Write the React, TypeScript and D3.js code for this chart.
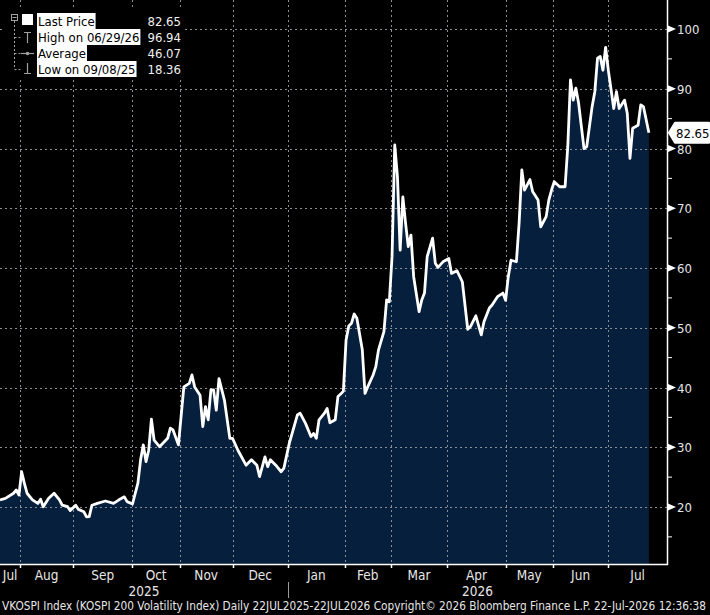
import React, { useEffect, useRef } from 'react';
import * as d3 from 'd3';

// trading-session index (0 = 22 Jul 2025) and VKOSPI close
const sessions = [
  0, 2, 5, 6, 7, 8, 9, 10, 12, 14,
  15, 16, 18, 20, 22, 23, 25, 26, 28, 29,
  31, 32, 33, 34, 36, 39, 42, 44, 46, 47,
  49, 51, 52, 53, 54, 55, 56, 57, 59, 62,
  63, 64, 66, 68, 70, 71, 72, 74, 75, 76,
  77, 78, 79, 80, 81, 83, 85, 86, 88, 91,
  93, 95, 96, 98, 99, 100, 102, 104, 105, 107,
  110, 111, 113, 115, 116, 117, 118, 120, 121, 122,
  124, 125, 126, 127, 128, 129, 130, 131, 132, 134,
  135, 136, 138, 139, 140, 142, 143, 144, 145, 146,
  147, 148, 149, 150, 151, 152, 153, 155, 156, 157,
  158, 160, 161, 162, 164, 166, 167, 169, 171, 173,
  174, 176, 178, 179, 181, 182, 184, 186, 187, 188,
  189, 191, 192, 193, 194, 196, 197, 199, 200, 202,
  203, 204, 205, 207, 209, 210, 211, 212, 213, 214,
  216, 217, 219, 220, 221, 222, 223, 224, 225, 227,
  228, 229, 231, 232, 233, 234, 236, 237, 238, 240,
];
const vkospi = [
  21.2, 21.45, 22.3, 22.85, 22.0, 25.9, 24.0, 22.3, 21.2, 20.6,
  21.3, 20.05, 21.45, 22.3, 21.2, 20.3, 20.05, 19.4, 20.3, 19.6,
  19.2, 18.36, 18.4, 20.3, 20.6, 21.0, 20.6, 21.2, 21.7, 20.9,
  20.5, 24.0, 27.9, 30.4, 27.6, 29.5, 34.7, 31.2, 30.1, 31.5,
  33.2, 32.9, 30.4, 40.1, 40.7, 42.1, 40.1, 38.7, 33.45, 36.8,
  34.6, 39.6, 39.6, 36.2, 41.5, 37.9, 31.5, 31.5, 29.5, 27.0,
  27.9, 27.0, 25.1, 28.4, 26.75, 27.9, 27.0, 25.9, 26.5, 30.65,
  35.4, 35.7, 34.0, 31.8, 32.3, 31.5, 34.6, 35.7, 36.5, 34.1,
  34.6, 38.5, 38.9, 39.4, 47.95, 50.3, 50.75, 52.3, 51.6, 46.3,
  39.0, 40.1, 42.1, 43.5, 46.3, 49.35, 54.65, 54.35, 61.9, 80.6,
  75.3, 63.0, 71.9, 67.5, 63.6, 65.5, 58.55, 52.7, 54.65, 55.8,
  61.9, 65.0, 60.8, 60.1, 61.1, 61.6, 59.1, 59.55, 57.7, 49.75,
  50.2, 52.0, 48.8, 51.0, 53.3, 53.8, 55.2, 55.8, 54.6, 58.55,
  61.3, 61.05, 67.5, 76.4, 73.05, 74.8, 72.8, 71.4, 66.9, 68.6,
  71.4, 73.05, 74.45, 73.6, 73.6, 80.3, 91.5, 88.1, 90.1, 87.6,
  80.0, 80.3, 87.0, 89.5, 95.1, 95.4, 93.1, 96.94, 93.1, 86.7,
  89.5, 86.7, 88.1, 85.9, 78.35, 83.4, 83.9, 87.3, 87.0, 82.65,
];

// month boundaries in session units, and the labels sitting between them
const monthStarts = [7.5, 27, 49, 66.5, 86, 106.5, 127.5, 144.5, 165.5, 187, 204.5, 225];
const monthLabels = ['Jul', 'Aug', 'Sep', 'Oct', 'Nov', 'Dec', 'Jan', 'Feb', 'Mar', 'Apr', 'May', 'Jun', 'Jul'];
const yearLabels = ['2025', '2026'];
const yearStart = 106.5;
const majorTicks = [20, 30, 40, 50, 60, 70, 80, 90, 100];
const minorTicks = [15, 25, 35, 45, 55, 65, 75, 85, 95];

const legendLabels = ['Last Price', 'High on 06/29/26', 'Average', 'Low on 09/08/25'];
const legendValues = ['82.65', '96.94', '46.07', '18.36'];
const lastValue = '82.65';
const footer = 'VKOSPI Index (KOSPI 200 Volatility Index) Daily 22JUL2025-22JUL2026  Copyright\u00a9 2026 Bloomberg Finance L.P.  22-Jul-2026 12:36:38';

const W = 710;
const H = 615;
const FONT = "'DejaVu Sans Condensed', 'DejaVu Sans', sans-serif";

export default function App() {
  const ref = useRef<SVGSVGElement>(null);

  useEffect(() => {
    if (!ref.current) return;
    const svg = d3.select(ref.current);
    svg.selectAll('*').remove();

    const plotRight = 667;
    const plotBottom = 564;
    const sessionEnd = 246.7;

    const x = d3.scaleLinear().domain([0, sessionEnd]).range([0, plotRight]);
    const y = d3.scaleLinear().domain([20, 100]).range([507, 29]);

    svg.append('rect').attr('width', W).attr('height', H).attr('fill', '#000');

    const data = sessions.map((s, i) => ({ s, v: vkospi[i] }));

    // area + line
    const area = d3.area<{ s: number; v: number }>()
      .x(d => x(d.s))
      .y0(plotBottom)
      .y1(d => y(d.v));
    svg.append('path').datum(data).attr('d', area).attr('fill', '#061f3d');

    // grid
    const grid = svg.append('g')
      .attr('stroke', '#8a8f96')
      .attr('stroke-width', 1)
      .attr('stroke-dasharray', '2,3')
      .attr('shape-rendering', 'crispEdges');
    grid.selectAll('line.h').data(majorTicks).enter().append('line')
      .attr('x1', 0).attr('x2', plotRight)
      .attr('y1', d => Math.round(y(d)) + 0.5).attr('y2', d => Math.round(y(d)) + 0.5);
    grid.selectAll('line.v').data(monthStarts).enter().append('line')
      .attr('y1', 0).attr('y2', plotBottom)
      .attr('x1', d => Math.round(x(d)) + 0.5).attr('x2', d => Math.round(x(d)) + 0.5);

    const line = d3.line<{ s: number; v: number }>()
      .x(d => x(d.s))
      .y(d => y(d.v));
    svg.append('path').datum(data).attr('d', line)
      .attr('fill', 'none').attr('stroke', '#fff')
      .attr('stroke-width', 2.8).attr('stroke-linejoin', 'round');

    // axes lines
    svg.append('line').attr('x1', plotRight + 0.5).attr('x2', plotRight + 0.5)
      .attr('y1', 0).attr('y2', plotBottom + 1).attr('stroke', '#fff').attr('stroke-width', 1.5);
    svg.append('line').attr('x1', 0).attr('x2', plotRight + 1)
      .attr('y1', plotBottom + 0.5).attr('y2', plotBottom + 0.5).attr('stroke', '#fff').attr('stroke-width', 1.5);

    // right axis
    const yAxis = svg.append('g');
    yAxis.selectAll('path.tri').data(majorTicks).enter().append('path')
      .attr('d', d => `M${plotRight + 1},${y(d) - 3.5}L${plotRight + 9},${y(d)}L${plotRight + 1},${y(d) + 3.5}Z`)
      .attr('fill', '#fff');
    yAxis.selectAll('line.minor').data(minorTicks).enter().append('line')
      .attr('x1', plotRight).attr('x2', plotRight + 5)
      .attr('y1', d => y(d)).attr('y2', d => y(d))
      .attr('stroke', '#fff').attr('stroke-width', 1);
    yAxis.selectAll('text').data(majorTicks).enter().append('text')
      .attr('x', plotRight + 10).attr('y', d => y(d) + 5)
      .attr('fill', '#e6e6e6').attr('font-size', 13).attr('font-family', FONT)
      .text(d => d);

    // last price callout
    const ly = y(+lastValue);
    svg.append('path')
      .attr('d', `M${plotRight + 2},${ly}L${plotRight + 8},${ly - 10}H${W - 1}V${ly + 10}H${plotRight + 8}Z`)
      .attr('fill', '#fff').attr('stroke', '#fff').attr('stroke-linejoin', 'round').attr('stroke-width', 2);
    svg.append('text').attr('x', plotRight + 9).attr('y', ly + 5)
      .attr('fill', '#000').attr('font-size', 13).attr('font-family', FONT).text(lastValue);

    // bottom axis
    svg.selectAll('line.mt').data(monthStarts).enter().append('line')
      .attr('x1', d => Math.round(x(d)) + 0.5).attr('x2', d => Math.round(x(d)) + 0.5)
      .attr('y1', plotBottom).attr('y2', plotBottom + 4)
      .attr('stroke', '#fff').attr('stroke-width', 1.5);
    const bounds = [0, ...monthStarts, sessionEnd];
    svg.selectAll('text.month').data(monthLabels).enter().append('text')
      .attr('x', (_, i) => (x(bounds[i]) + x(bounds[i + 1])) / 2)
      .attr('y', 580)
      .attr('text-anchor', 'middle')
      .attr('fill', '#e6e6e6').attr('font-size', 13.5).attr('font-family', FONT)
      .text(d => d);
    const yb = [0, yearStart, sessionEnd];
    svg.selectAll('text.year').data(yearLabels).enter().append('text')
      .attr('x', (_, i) => (x(yb[i]) + x(yb[i + 1])) / 2)
      .attr('y', 596)
      .attr('text-anchor', 'middle')
      .attr('fill', '#e6e6e6').attr('font-size', 13.5).attr('font-family', FONT)
      .text(d => d);
    svg.append('line')
      .attr('x1', Math.round(x(yearStart)) + 0.5).attr('x2', Math.round(x(yearStart)) + 0.5)
      .attr('y1', 582).attr('y2', 598).attr('stroke', '#9a9a9a').attr('stroke-width', 1);

    svg.append('text').attr('x', 2).attr('y', 609.5)
      .attr('fill', '#e6e6e6').attr('font-size', 11.5).attr('font-family', FONT)
      .attr('textLength', 704).attr('lengthAdjust', 'spacingAndGlyphs')
      .text(footer);

    // legend
    const lg = svg.append('g');
    lg.append('rect').attr('x', 4).attr('y', 8).attr('width', 181).attr('height', 70).attr('fill', '#000');
    const rowTop = (i: number) => 13 + i * 16;
    const gray = '#a0a0a0';
    lg.append('rect').attr('x', 11.5).attr('y', 14.5).attr('width', 6).attr('height', 6)
      .attr('fill', 'none').attr('stroke', gray);
    lg.append('line').attr('x1', 12.5).attr('x2', 16.5).attr('y1', 17.5).attr('y2', 17.5).attr('stroke', gray);
    lg.append('line').attr('x1', 14.5).attr('x2', 14.5).attr('y1', 21).attr('y2', 69)
      .attr('stroke', gray).attr('stroke-dasharray', '2,2');
    [1, 2, 3].forEach(i => {
      lg.append('line').attr('x1', 14.5).attr('x2', 21).attr('y1', rowTop(i) + 8.5).attr('y2', rowTop(i) + 8.5)
        .attr('stroke', gray).attr('stroke-dasharray', '2,2');
    });
    lg.append('rect').attr('x', 22).attr('y', 14).attr('width', 11).attr('height', 11).attr('fill', '#fff');
    // high icon
    lg.append('path').attr('d', `M24,${rowTop(1) + 3.5}H31M27.5,${rowTop(1) + 3.5}V${rowTop(1) + 14}`)
      .attr('stroke', gray).attr('stroke-width', 1.2).attr('fill', 'none');
    // average icon
    lg.append('path').attr('d', `M21,${rowTop(2) + 8.5}H34`).attr('stroke', gray).attr('stroke-width', 1.2);
    lg.append('circle').attr('cx', 27.5).attr('cy', rowTop(2) + 8.5).attr('r', 1.8).attr('fill', gray);
    // low icon
    lg.append('path').attr('d', `M27.5,${rowTop(3) + 2}V${rowTop(3) + 12.5}M24,${rowTop(3) + 12.5}H31`)
      .attr('stroke', gray).attr('stroke-width', 1.2).attr('fill', 'none');

    legendLabels.forEach((label, i) => {
      const bg = lg.append('rect').attr('x', 37).attr('y', rowTop(i)).attr('height', 16).attr('fill', '#fff');
      const t = lg.append('text').attr('x', 38).attr('y', rowTop(i) + 12.5)
        .attr('fill', '#000').attr('font-size', 13).attr('font-family', FONT).text(label);
      const w = (t.node() as SVGTextElement).getComputedTextLength();
      bg.attr('width', w + 2);
      lg.append('text').attr('x', 181).attr('y', rowTop(i) + 12.5).attr('text-anchor', 'end')
        .attr('fill', '#f0f0f0').attr('font-size', 13).attr('font-family', FONT).text(legendValues[i]);
    });
  }, []);

  return (
    <svg
      ref={ref}
      width={W}
      height={H}
      style={{ position: 'fixed', left: 0, top: 0, display: 'block', background: '#000' }}
    />
  );
}
